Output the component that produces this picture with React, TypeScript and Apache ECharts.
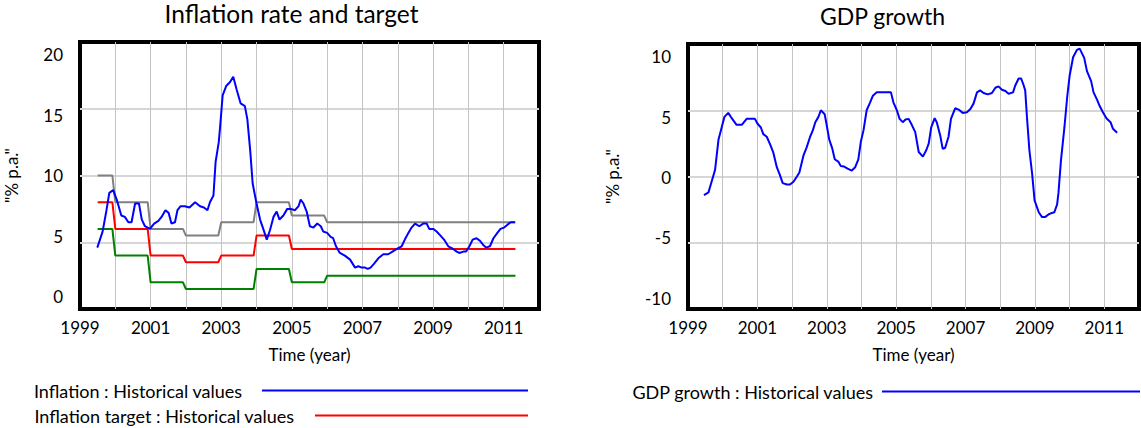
import React, { useEffect, useRef } from 'react';
import * as echarts from 'echarts';

const FONT = 'Lato, "Liberation Sans", sans-serif';

// Tick labels
const yearTicks = [1999, 2001, 2003, 2005, 2007, 2009, 2011];
const inflationTicks = [0, 5, 10, 15, 20];
const gdpTicks = [-10, -5, 0, 5, 10];

// Annual band values (upper band, target, lower band)
const bandYears = [1999, 2000, 2001, 2002, 2003, 2004, 2005, 2006, 2007, 2008, 2009, 2010, 2011];
const upperBand = [10, 8, 6, 5.5, 6.5, 8, 7, 6.5, 6.5, 6.5, 6.5, 6.5, 6.5];
const inflationTarget = [8, 6, 4, 3.5, 4, 5.5, 4.5, 4.5, 4.5, 4.5, 4.5, 4.5, 4.5];
const lowerBand = [6, 4, 2, 1.5, 1.5, 3, 2, 2.5, 2.5, 2.5, 2.5, 2.5, 2.5];
const bandStart = 1999.5;
const bandEnd = 2011 + 4 / 12;

// Inflation : Historical values  [time, % p.a.]
const inflation: [number, number][] = [
  [1999.49, 4.6], [1999.64, 5.8], [1999.75, 7.4], [1999.83, 8.7], [1999.94, 8.9], [2000.04, 8.2],
  [2000.17, 7.0], [2000.27, 6.9], [2000.37, 6.5], [2000.46, 6.5], [2000.56, 7.9], [2000.67, 7.9],
  [2000.75, 6.7], [2000.84, 6.2], [2000.98, 6.0], [2001.1, 6.4], [2001.22, 6.6], [2001.31, 6.9],
  [2001.42, 7.4], [2001.51, 7.2], [2001.59, 6.4], [2001.69, 6.5], [2001.76, 7.4], [2001.85, 7.7],
  [2001.97, 7.7], [2002.1, 7.6], [2002.26, 8.0], [2002.4, 7.7], [2002.51, 7.6], [2002.61, 7.4],
  [2002.68, 8.0], [2002.78, 8.5], [2002.84, 11.0], [2002.93, 12.5], [2002.97, 13.7], [2003.04, 16.0],
  [2003.14, 16.7], [2003.25, 17.0], [2003.34, 17.4], [2003.44, 16.4], [2003.55, 15.4], [2003.67, 15.2],
  [2003.74, 14.2], [2003.82, 11.9], [2003.89, 9.4], [2004.0, 7.9], [2004.1, 6.7], [2004.19, 6.0],
  [2004.29, 5.2], [2004.38, 5.9], [2004.48, 6.9], [2004.57, 7.3], [2004.65, 6.7], [2004.76, 7.0],
  [2004.87, 7.5], [2004.97, 7.5], [2005.09, 7.4], [2005.19, 7.7], [2005.25, 8.2], [2005.33, 7.9],
  [2005.42, 7.3], [2005.51, 6.2], [2005.61, 6.1], [2005.72, 6.4], [2005.82, 6.2], [2005.89, 5.8],
  [2006.0, 5.7], [2006.1, 5.4], [2006.17, 5.3], [2006.25, 4.7], [2006.36, 4.2], [2006.5, 4.0],
  [2006.65, 3.7], [2006.72, 3.4], [2006.79, 3.1], [2006.88, 3.2], [2006.98, 3.1], [2007.07, 3.1],
  [2007.15, 3.0], [2007.23, 3.1], [2007.33, 3.4], [2007.45, 3.8], [2007.59, 4.1], [2007.73, 4.1],
  [2007.85, 4.3], [2007.97, 4.5], [2008.11, 4.7], [2008.2, 5.2], [2008.3, 5.7], [2008.39, 6.1],
  [2008.49, 6.4], [2008.61, 6.2], [2008.72, 6.4], [2008.82, 6.4], [2008.89, 6.0], [2009.01, 6.0],
  [2009.1, 5.8], [2009.21, 5.5], [2009.31, 5.2], [2009.43, 4.7], [2009.57, 4.5], [2009.67, 4.3],
  [2009.74, 4.2], [2009.86, 4.3], [2009.93, 4.3], [2010.03, 4.7], [2010.12, 5.2], [2010.23, 5.3],
  [2010.33, 5.1], [2010.42, 4.8], [2010.5, 4.6], [2010.61, 4.7], [2010.71, 5.3], [2010.82, 5.7],
  [2010.91, 6.0], [2011.01, 6.1], [2011.1, 6.3], [2011.2, 6.5], [2011.32, 6.5],
];

// GDP growth : Historical values  [time, % p.a.]
const gdpGrowth: [number, number][] = [
  [1999.46, -1.4], [1999.59, -1.2], [1999.68, -0.4], [1999.78, 0.5], [1999.88, 2.8], [1999.97, 3.7],
  [2000.05, 4.5], [2000.16, 4.8], [2000.26, 4.4], [2000.4, 3.9], [2000.55, 3.9], [2000.69, 4.35],
  [2000.84, 4.35], [2000.93, 4.35], [2001.0, 4.0], [2001.1, 3.7], [2001.17, 3.2], [2001.27, 3.0],
  [2001.37, 2.4], [2001.46, 1.8], [2001.56, 0.7], [2001.65, 0.1], [2001.73, -0.5], [2001.85, -0.6],
  [2001.94, -0.6], [2002.04, -0.4], [2002.14, 0.0], [2002.21, 0.3], [2002.33, 1.6], [2002.42, 2.2],
  [2002.52, 3.0], [2002.6, 3.5], [2002.67, 4.1], [2002.76, 4.5], [2002.83, 5.0], [2002.94, 4.7],
  [2003.0, 3.85], [2003.07, 2.8], [2003.16, 2.1], [2003.23, 1.3], [2003.34, 1.1], [2003.4, 0.8],
  [2003.5, 0.75], [2003.6, 0.6], [2003.72, 0.45], [2003.82, 0.7], [2003.91, 1.3], [2003.98, 2.6],
  [2004.06, 3.5], [2004.15, 5.0], [2004.25, 5.6], [2004.33, 6.1], [2004.44, 6.35], [2004.64, 6.35],
  [2004.85, 6.35], [2004.92, 5.6], [2005.02, 5.0], [2005.1, 4.35], [2005.19, 4.1], [2005.27, 4.3],
  [2005.36, 4.35], [2005.45, 3.9], [2005.55, 3.35], [2005.65, 1.85], [2005.77, 1.5], [2005.87, 2.0],
  [2005.94, 2.5], [2006.01, 3.7], [2006.11, 4.4], [2006.17, 4.1], [2006.27, 3.1], [2006.34, 2.1],
  [2006.41, 2.15], [2006.51, 3.0], [2006.58, 4.35], [2006.7, 5.15], [2006.8, 5.05], [2006.92, 4.8],
  [2007.04, 4.85], [2007.14, 5.1], [2007.23, 5.5], [2007.33, 6.35], [2007.42, 6.5], [2007.52, 6.3],
  [2007.64, 6.2], [2007.76, 6.3], [2007.86, 6.7], [2007.95, 6.8], [2008.05, 6.55], [2008.15, 6.45],
  [2008.24, 6.25], [2008.37, 6.35], [2008.43, 6.85], [2008.53, 7.4], [2008.6, 7.4], [2008.66, 7.0],
  [2008.72, 6.5], [2008.77, 4.5], [2008.84, 2.0], [2008.92, 0.2], [2008.99, -1.8], [2009.11, -2.7],
  [2009.2, -3.05], [2009.3, -3.05], [2009.4, -2.85], [2009.49, -2.75], [2009.56, -2.7], [2009.64, -2.1],
  [2009.68, -1.2], [2009.75, 1.2], [2009.85, 3.7], [2009.93, 6.0], [2010.0, 7.6], [2010.1, 9.0],
  [2010.21, 9.55], [2010.29, 9.65], [2010.42, 8.95], [2010.5, 7.95], [2010.62, 7.2], [2010.69, 6.35],
  [2010.79, 5.8], [2010.87, 5.3], [2010.96, 4.85], [2011.06, 4.4], [2011.18, 4.1], [2011.25, 3.6],
  [2011.37, 3.3],
];

function stepData(values: number[]): [number, number][] {
  const pts: [number, number][] = [];
  bandYears.forEach((y, i) => {
    const a = Math.max(y, bandStart);
    const b = Math.min(y + 11 / 12, bandEnd);
    pts.push([a, values[i]], [b, values[i]]);
  });
  return pts;
}

const txt = { fontFamily: FONT, color: '#000', fontSize: 17 };

function xAxisFor(gridIndex: number) {
  return {
    type: 'value', gridIndex, min: 1999, max: 2012, interval: 1,
    name: 'Time (year)', nameLocation: 'middle', nameGap: 37, nameTextStyle: { ...txt },
    axisLine: { show: false }, axisTick: { show: false },
    axisLabel: { ...txt, margin: 10, customValues: yearTicks, formatter: (v: number) => String(v) },
    splitLine: { show: true, showMinLine: false, showMaxLine: false, lineStyle: { color: '#c4c4c4', width: 1 } },
  };
}

function gridAxis(gridIndex: number, min: number, max: number, nameGap: number) {
  return {
    type: 'value', gridIndex, min, max, interval: 5,
    name: '"% p.a."', nameLocation: 'middle', nameGap, nameRotate: 90, nameTextStyle: { ...txt },
    axisLine: { show: false }, axisTick: { show: false }, axisLabel: { show: false },
    splitLine: { show: true, showMinLine: false, showMaxLine: false, lineStyle: { color: '#d6d6d6', width: 2 } },
  };
}

function labelAxis(gridIndex: number, min: number, max: number, ticks: number[]) {
  return {
    type: 'value', gridIndex, min, max, position: 'left',
    axisLine: { show: false }, axisTick: { show: false }, splitLine: { show: false },
    axisLabel: { ...txt, margin: 17, customValues: ticks, formatter: (v: number) => String(v) },
  };
}

function lineSeries(name: string, data: [number, number][], color: string, xi: number, yi: number) {
  return {
    type: 'line', name, data, xAxisIndex: xi, yAxisIndex: yi,
    showSymbol: false, symbol: 'none', silent: true,
    lineStyle: { color, width: 2 }, itemStyle: { color },
  };
}

function legendFor(name: string, right: number, top: number, itemWidth: number, gap: number) {
  return {
    data: [name], right, top, itemWidth, itemHeight: 2, icon: 'rect', align: 'right',
    padding: 0, selectedMode: false, textStyle: { ...txt, fontSize: 18, padding: [0, gap, 0, 0] },
  };
}

export default function App() {
  const ref = useRef<HTMLDivElement>(null);
  useEffect(() => {
    if (!ref.current) return;
    const chart = echarts.init(ref.current, null, { renderer: 'svg' });
    chart.setOption({
      animation: false,
      backgroundColor: '#fff',
      title: [
        { text: 'Inflation rate and target', left: 291.5, top: 1, textAlign: 'center', padding: 0,
          textStyle: { fontFamily: FONT, fontSize: 24.5, fontWeight: 'normal', color: '#000' } },
        { text: 'GDP growth', left: 882.5, top: 4, textAlign: 'center', padding: 0,
          textStyle: { fontFamily: FONT, fontSize: 23, fontWeight: 'normal', color: '#000' } },
      ],
      legend: [
        legendFor('Inflation : Historical values', 613, 381.5, 266, 15),
        legendFor('Inflation target : Historical values', 613, 406.5, 213, 16),
        legendFor('GDP growth : Historical values', 1, 382.5, 258, 4),
      ],
      grid: [
        { left: 80, top: 42, width: 459, height: 267, show: true, borderColor: '#000', borderWidth: 4, backgroundColor: 'transparent' },
        { left: 688, top: 44, width: 451, height: 265, show: true, borderColor: '#000', borderWidth: 4, backgroundColor: 'transparent' },
      ],
      xAxis: [xAxisFor(0), xAxisFor(1)],
      yAxis: [
        gridAxis(0, 0, 20, 60),
        labelAxis(0, -1.03, 21.07, inflationTicks),
        gridAxis(1, -10, 10, 67),
        labelAxis(1, -10.89, 11.05, gdpTicks),
      ],
      series: [
        lineSeries('Inflation upper band : Historical values', stepData(upperBand), '#808080', 0, 0),
        lineSeries('Inflation lower band : Historical values', stepData(lowerBand), '#008000', 0, 0),
        lineSeries('Inflation target : Historical values', stepData(inflationTarget), '#ff0000', 0, 0),
        lineSeries('Inflation : Historical values', inflation, '#0000ff', 0, 0),
        lineSeries('GDP growth : Historical values', gdpGrowth, '#0000ff', 1, 2),
      ],
    });
    return () => chart.dispose();
  }, []);
  return (
    <div
      ref={ref}
      style={{ position: 'fixed', left: 0, top: 0, width: 1141, height: 428, background: '#fff' }}
    />
  );
}
